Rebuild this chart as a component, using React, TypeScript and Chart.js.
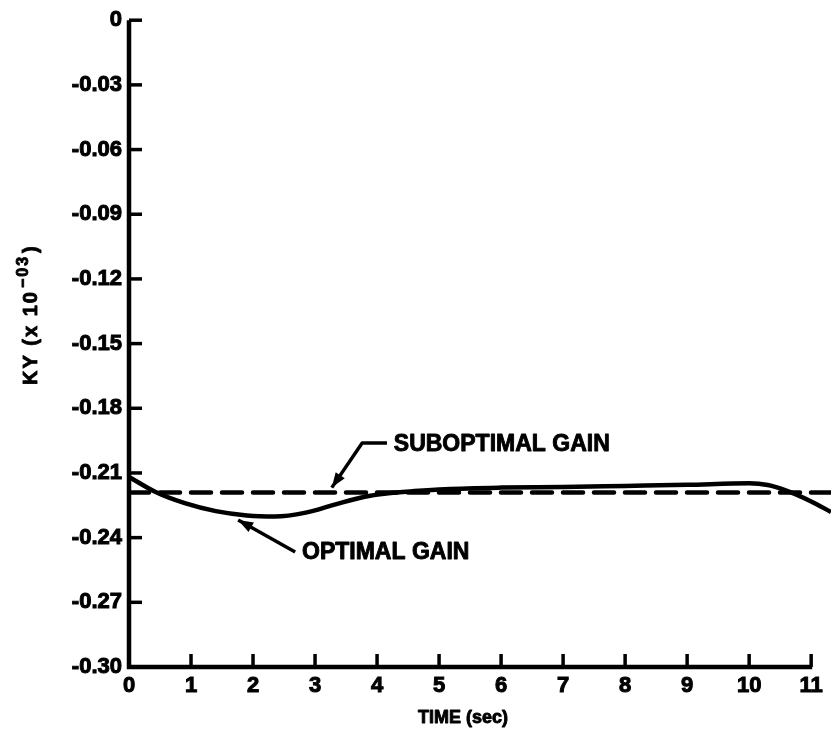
import React, { useEffect, useRef } from "react";
import { Chart, registerables } from "chart.js";

Chart.register(...registerables);

// ---- Data ----
const TIME = [0, 0.42, 0.9, 1.4, 1.9, 2.35, 2.85, 3.3, 3.8, 4.15, 4.6, 5.1, 6, 7, 8, 9, 10, 10.3, 10.6, 11, 11.32];
const OPTIMAL_GAIN = [
  -0.2118, -0.2187, -0.224, -0.2277, -0.2297, -0.2302, -0.2284, -0.2248, -0.221, -0.2195, -0.2184,
  -0.2175, -0.2168, -0.2165, -0.216, -0.2155, -0.2148, -0.2156, -0.2182, -0.2232, -0.2281,
];
const SUB_TIME = [0, 11.32];
const SUBOPTIMAL_GAIN = [-0.2191, -0.2191];

const X_TICKS = [0, 1, 2, 3, 4, 5, 6, 7, 8, 9, 10, 11];
const X_TICK_LABELS = ["0", "1", "2", "3", "4", "5", "6", "7", "8", "9", "10", "11"];
const Y_TICKS = [0, -0.03, -0.06, -0.09, -0.12, -0.15, -0.18, -0.21, -0.24, -0.27, -0.3];
const Y_TICK_LABELS = ["0", "-0.03", "-0.06", "-0.09", "-0.12", "-0.15", "-0.18", "-0.21", "-0.24", "-0.27", "-0.30"];

const X_MIN = 0;
const X_MAX = 11.32;
const Y_MIN = -0.3;
const Y_MAX = 0;

const LABEL_SUB = "SUBOPTIMAL GAIN";
const LABEL_OPT = "OPTIMAL GAIN";
const X_TITLE = "TIME (sec)";
const Y_TITLE_MAIN = "KY (x 10";
const Y_TITLE_SUP = "\u221203";
const Y_TITLE_END = ")";

// annotation anchors in data units
const SUB_ARROW = { tip: [3.27, -0.2168], knee: [3.76, -0.1961], tail: [4.16, -0.1961], text: [4.27, -0.1971] };
const OPT_ARROW = { tip: [1.76, -0.2318], tail: [2.68, -0.2467], text: [2.79, -0.2471] };

const FONT = "'Liberation Sans', Arial, Helvetica, sans-serif";

function arrowHead(ctx: CanvasRenderingContext2D, fx: number, fy: number, tx: number, ty: number) {
  const ang = Math.atan2(ty - fy, tx - fx);
  const len = 15;
  const half = 5.5;
  ctx.beginPath();
  ctx.moveTo(tx, ty);
  ctx.lineTo(tx - len * Math.cos(ang) + half * Math.sin(ang), ty - len * Math.sin(ang) - half * Math.cos(ang));
  ctx.lineTo(tx - len * Math.cos(ang) - half * Math.sin(ang), ty - len * Math.sin(ang) + half * Math.cos(ang));
  ctx.closePath();
  ctx.fill();
}

function boldText(ctx: CanvasRenderingContext2D, s: string, x: number, y: number) {
  ctx.fillText(s, x, y);
  ctx.strokeText(s, x, y);
}

const decorPlugin = {
  id: "decor",
  afterDatasetsDraw(chart: any) {
    const ctx: CanvasRenderingContext2D = chart.ctx;
    const xs = chart.scales.x;
    const ys = chart.scales.y;
    const px = (v: number) => xs.getPixelForValue(v);
    const py = (v: number) => ys.getPixelForValue(v);
    ctx.save();
    ctx.strokeStyle = "#000";
    ctx.fillStyle = "#000";
    ctx.lineCap = "butt";

    // axes
    ctx.lineWidth = 4.5;
    ctx.beginPath();
    ctx.moveTo(px(0), py(Y_MAX));
    ctx.lineTo(px(0), py(Y_MIN));
    ctx.lineTo(px(X_TICKS[X_TICKS.length - 1]) + 1, py(Y_MIN));
    ctx.stroke();

    // inward ticks
    ctx.lineWidth = 3.5;
    Y_TICKS.forEach((v) => {
      if (v === Y_MIN) return;
      ctx.beginPath();
      ctx.moveTo(px(0), py(v));
      ctx.lineTo(px(0) + 13, py(v));
      ctx.stroke();
    });
    X_TICKS.forEach((v) => {
      if (v === X_MIN) return;
      ctx.beginPath();
      ctx.moveTo(px(v), py(Y_MIN));
      ctx.lineTo(px(v), py(Y_MIN) - 13);
      ctx.stroke();
    });

    // annotation leaders
    ctx.lineWidth = 3.5;
    ctx.lineJoin = "round";
    ctx.beginPath();
    ctx.moveTo(px(SUB_ARROW.tail[0]), py(SUB_ARROW.tail[1]));
    ctx.lineTo(px(SUB_ARROW.knee[0]), py(SUB_ARROW.knee[1]));
    ctx.lineTo(px(SUB_ARROW.tip[0]), py(SUB_ARROW.tip[1]));
    ctx.stroke();
    arrowHead(ctx, px(SUB_ARROW.knee[0]), py(SUB_ARROW.knee[1]), px(SUB_ARROW.tip[0]), py(SUB_ARROW.tip[1]));

    ctx.beginPath();
    ctx.moveTo(px(OPT_ARROW.tail[0]), py(OPT_ARROW.tail[1]));
    ctx.lineTo(px(OPT_ARROW.tip[0]), py(OPT_ARROW.tip[1]));
    ctx.stroke();
    arrowHead(ctx, px(OPT_ARROW.tail[0]), py(OPT_ARROW.tail[1]), px(OPT_ARROW.tip[0]), py(OPT_ARROW.tip[1]));

    // annotation labels
    ctx.lineWidth = 0.9;
    ctx.lineJoin = "round";
    ctx.font = `bold 23px ${FONT}`;
    ctx.textAlign = "left";
    ctx.textBaseline = "middle";
    boldText(ctx, LABEL_SUB, px(SUB_ARROW.text[0]), py(SUB_ARROW.text[1]));
    boldText(ctx, LABEL_OPT, px(OPT_ARROW.text[0]), py(OPT_ARROW.text[1]));

    // x title
    ctx.font = `bold 18px ${FONT}`;
    ctx.textAlign = "center";
    ctx.textBaseline = "alphabetic";
    boldText(ctx, X_TITLE, 463, 723);

    // y title (rotated) with superscript
    ctx.save();
    ctx.translate(37, 385);
    ctx.rotate(-Math.PI / 2);
    (ctx as any).letterSpacing = "2px";
    ctx.textAlign = "left";
    ctx.textBaseline = "alphabetic";
    ctx.font = `bold 20px ${FONT}`;
    let x = 0;
    boldText(ctx, Y_TITLE_MAIN, x, 0);
    x += ctx.measureText(Y_TITLE_MAIN).width + 2;
    ctx.font = `bold 16px ${FONT}`;
    boldText(ctx, Y_TITLE_SUP, x, -9);
    x += ctx.measureText(Y_TITLE_SUP).width + 2;
    ctx.font = `bold 20px ${FONT}`;
    boldText(ctx, Y_TITLE_END, x, 0);
    ctx.restore();

    ctx.restore();
  },
};

export default function App() {
  const ref = useRef<HTMLCanvasElement | null>(null);

  useEffect(() => {
    if (!ref.current) return;
    const chart = new Chart(ref.current, {
      type: "line",
      data: {
        datasets: [
          {
            label: "Optimal gain",
            data: TIME.map((t, i) => ({ x: t, y: OPTIMAL_GAIN[i] })),
            borderColor: "#000",
            borderWidth: 4.5,
            pointRadius: 0,
            cubicInterpolationMode: "monotone",
            fill: false,
          },
          {
            label: "Suboptimal gain",
            data: SUB_TIME.map((t, i) => ({ x: t, y: SUBOPTIMAL_GAIN[i] })),
            borderColor: "#000",
            borderWidth: 4.5,
            borderDash: [20, 11],
            borderCapStyle: "round",
            pointRadius: 0,
            fill: false,
          },
        ],
      },
      options: {
        animation: false,
        responsive: false,
        devicePixelRatio: 1,
        layout: { padding: { top: 20, right: 0, left: 0, bottom: 0 } },
        plugins: { legend: { display: false }, tooltip: { enabled: false } },
        scales: {
          x: {
            type: "linear",
            min: X_MIN,
            max: X_MAX,
            grid: { display: false, drawTicks: false },
            border: { display: false },
            afterBuildTicks: (s: any) => {
              s.ticks = X_TICKS.map((v) => ({ value: v }));
            },
            afterFit: (s: any) => {
              s.height = 73;
            },
            ticks: {
              autoSkip: false,
              maxRotation: 0,
              padding: 6,
              color: "#000",
              textStrokeColor: "#000",
              textStrokeWidth: 1,
              font: { family: FONT, size: 22, weight: "bold" },
              callback: (_v: any, i: number) => X_TICK_LABELS[i],
            },
          },
          y: {
            type: "linear",
            min: Y_MIN,
            max: Y_MAX,
            grid: { display: false, drawTicks: false },
            border: { display: false },
            afterBuildTicks: (s: any) => {
              s.ticks = Y_TICKS.map((v) => ({ value: v }));
            },
            afterFit: (s: any) => {
              s.width = 129;
            },
            ticks: {
              autoSkip: false,
              padding: 7,
              color: "#000",
              textStrokeColor: "#000",
              textStrokeWidth: 1,
              font: { family: FONT, size: 22, weight: "bold" },
              callback: (_v: any, i: number) => Y_TICK_LABELS[i],
            },
          },
        },
      },
      plugins: [decorPlugin],
    } as any);
    return () => chart.destroy();
  }, []);

  return (
    <div style={{ position: "absolute", left: 0, top: 0, width: 831, height: 740, background: "#fff" }}>
      <canvas ref={ref} width={831} height={740} style={{ width: 831, height: 740 }} />
    </div>
  );
}
